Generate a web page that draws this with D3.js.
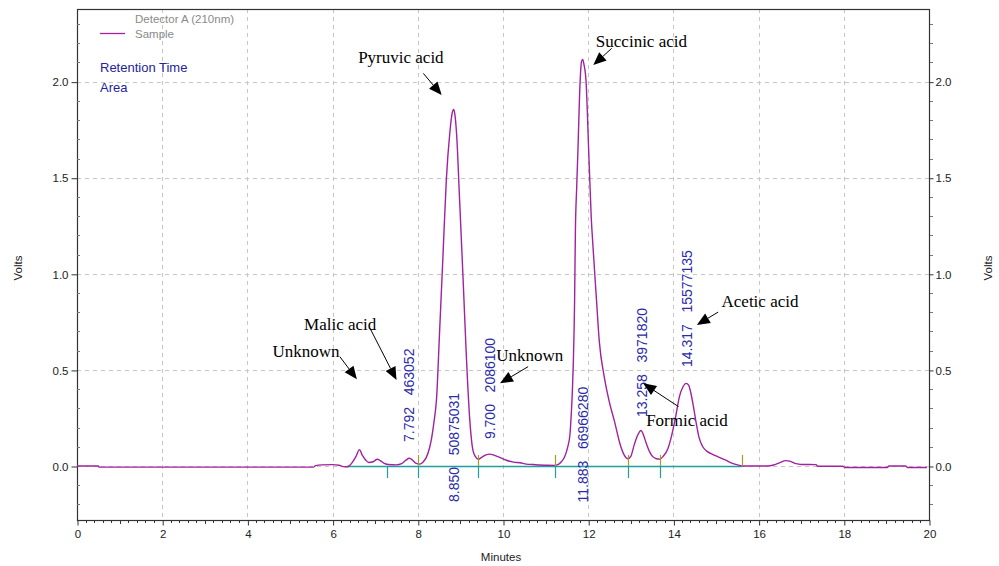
<!DOCTYPE html>
<html>
<head>
<meta charset="utf-8">
<script src="https://cdn.jsdelivr.net/npm/d3@7/dist/d3.min.js"></script>
<style>
  html, body { margin: 0; padding: 0; background: #fff; }
  svg { display: block; }
  .tick-text { font-family: "Liberation Sans", Arial, sans-serif; font-size: 11.5px; fill: #222; }
  .peak-label { font-family: "Liberation Sans", Arial, sans-serif; font-size: 14px; fill: #2b2ba8; white-space: pre; }
  .note { font-family: "Liberation Serif", "Times New Roman", serif; font-size: 17px; fill: #000; }
</style>
</head>
<body>
<svg id="chart" width="999" height="566"></svg>
<script>
// Detector A (210nm) trace: retention time (min) and signal (volts)
const traceTime = [
  0.00, 0.50, 0.52, 5.55, 5.60, 5.75, 6.00, 6.15, 6.25, 6.35,
  6.45, 6.55, 6.63, 6.70, 6.78, 6.85, 6.95, 7.05, 7.12, 7.20,
  7.30, 7.50, 7.62, 7.72, 7.80, 7.88, 7.95, 8.05, 8.12, 8.20,
  8.27, 8.32, 8.38, 8.44, 8.51, 8.59, 8.67, 8.75, 8.81, 8.84,
  8.87, 8.91, 8.98, 9.06, 9.14, 9.22, 9.29, 9.35, 9.42, 9.50,
  9.60, 9.69, 9.80, 9.92, 10.08, 10.25, 10.40, 10.55, 10.70, 10.86,
  11.00, 11.21, 11.30, 11.37, 11.45, 11.52, 11.57, 11.60, 11.63, 11.65,
  11.68, 11.70, 11.73, 11.76, 11.81, 11.84, 11.87, 11.90, 11.95, 12.01,
  12.07, 12.11, 12.19, 12.26, 12.38, 12.50, 12.62, 12.74, 12.85, 12.93,
  13.00, 13.08, 13.16, 13.24, 13.30, 13.36, 13.44, 13.51, 13.60, 13.68,
  13.76, 13.87, 13.95, 14.02, 14.08, 14.14, 14.22, 14.30, 14.36, 14.41,
  14.47, 14.53, 14.60, 14.69, 14.80, 14.92, 15.05, 15.23, 15.40, 15.55,
  15.62, 16.20, 16.35, 16.50, 16.64, 16.75, 16.88, 17.00, 17.35, 17.38,
  17.98, 18.02, 19.02, 19.06, 19.45, 19.50, 19.95
];
const traceVolts = [
  0.000, 0.000, -0.006, -0.006, 0.002, 0.006, 0.007, 0.004, -0.003, -0.004,
  0.015, 0.050, 0.085, 0.055, 0.030, 0.018, 0.022, 0.035, 0.028, 0.015,
  0.008, 0.006, 0.012, 0.030, 0.040, 0.030, 0.015, 0.010, 0.020, 0.045,
  0.090, 0.140, 0.230, 0.350, 0.690, 1.090, 1.490, 1.730, 1.840, 1.855,
  1.830, 1.730, 1.390, 0.990, 0.570, 0.240, 0.087, 0.050, 0.035, 0.045,
  0.058, 0.062, 0.055, 0.045, 0.030, 0.020, 0.017, 0.010, 0.008, 0.005,
  0.004, 0.003, 0.008, 0.022, 0.050, 0.100, 0.160, 0.260, 0.400, 0.530,
  0.850, 1.230, 1.450, 1.650, 2.000, 2.100, 2.115, 2.090, 2.000, 1.650,
  1.300, 1.150, 0.880, 0.650, 0.460, 0.330, 0.230, 0.120, 0.055, 0.037,
  0.050, 0.110, 0.160, 0.185, 0.160, 0.120, 0.075, 0.050, 0.038, 0.036,
  0.050, 0.090, 0.150, 0.220, 0.290, 0.360, 0.410, 0.430, 0.420, 0.380,
  0.310, 0.230, 0.150, 0.100, 0.075, 0.060, 0.048, 0.030, 0.012, 0.003,
  0.000, 0.000, 0.005, 0.018, 0.028, 0.024, 0.012, 0.008, 0.007, -0.001,
  -0.001, -0.008, -0.008, 0.000, 0.000, -0.008, -0.008
];

// Integrated peaks: retention time and area
const peakTimes = ["7.792", "8.850", "9.700", "11.883", "13.258", "14.317"];
const peakAreas = ["463052", "50875031", "2086100", "66966280", "3971820", "15577135"];

// Integration baseline and event marks (minutes)
const baselineSpan = [6.33, 15.6];
const dropMarks = [7.28, 8.0, 9.41, 11.21, 12.93, 13.68];
const startEndMarks = [8.0, 9.41, 11.21, 12.93, 13.68, 15.6];

// Compound names
const noteTexts = ["Unknown", "Malic acid", "Pyruvic acid", "Unknown", "Succinic acid", "Formic acid", "Acetic acid"];

// Axis ticks
const xTicks = [0, 2, 4, 6, 8, 10, 12, 14, 16, 18, 20];
const yTicks = [0.0, 0.5, 1.0, 1.5, 2.0];

// ---------- layout ----------
const svg = d3.select("#chart");
const plot = { left: 77, right: 929, top: 9, bottom: 520 };

const x = d3.scaleLinear().domain([0, 20]).range([plot.left, plot.right]);
const y = d3.scaleLinear().domain([-0.281, 2.378]).range([plot.bottom, plot.top]);

// label anchor (volts, where the rotated text starts)
const peakLabelStart = [0.125, -0.187, 0.14, -0.19, 0.255, 0.515];

// note placement in data units: text anchor, arrow tail, arrow tip
const notePos = [
  { tx: 4.59, tv: 0.567, ax: 6.17, av: 0.569, bx: 6.57, bv: 0.451 },
  { tx: 5.33, tv: 0.708, ax: 6.88, av: 0.716, bx: 7.50, bv: 0.447 },
  { tx: 6.60, tv: 2.097, ax: 8.13, av: 2.043, bx: 8.56, bv: 1.930 },
  { tx: 9.84, tv: 0.546, ax: 10.59, av: 0.517, bx: 9.93, bv: 0.430 },
  { tx: 12.18, tv: 2.180, ax: 12.55, av: 2.173, bx: 12.12, bv: 2.086 },
  { tx: 13.36, tv: 0.208, ax: 14.12, av: 0.309, bx: 13.29, bv: 0.430 },
  { tx: 15.13, tv: 0.827, ax: 15.05, av: 0.801, bx: 14.55, bv: 0.734 }
];

// ---------- grid ----------
const grid = svg.append("g").attr("stroke", "#c6c6c6").attr("stroke-dasharray", "4,4").attr("stroke-width", 1);
grid.selectAll(".gx").data(xTicks.filter(d => d > 0 && d < 20)).join("line")
  .attr("x1", d => Math.round(x(d)) + 0.5).attr("x2", d => Math.round(x(d)) + 0.5)
  .attr("y1", plot.top).attr("y2", plot.bottom);
grid.selectAll(".gy").data(yTicks).join("line")
  .attr("y1", d => Math.round(y(d)) + 0.5).attr("y2", d => Math.round(y(d)) + 0.5)
  .attr("x1", plot.left).attr("x2", plot.right);

// ---------- axes ----------
const axisColor = "#333";
const frame = svg.append("g");
frame.append("rect")
  .attr("x", plot.left + 0.5).attr("y", plot.top + 0.5)
  .attr("width", plot.right - plot.left).attr("height", plot.bottom - plot.top)
  .attr("fill", "none").attr("stroke", axisColor).attr("stroke-width", 1.2);

// bottom axis
const xAxis = d3.axisBottom(x).tickValues(xTicks).tickFormat(d3.format("d")).tickSize(5).tickPadding(4);
const gx = svg.append("g").attr("transform", `translate(0.5,${plot.bottom + 0.5})`).call(xAxis);
gx.select(".domain").remove();
gx.selectAll("line").attr("stroke", axisColor);
gx.selectAll("text").attr("class", "tick-text").attr("font-size", null).attr("font-family", null).attr("fill", null);

const xMinor = d3.range(0, 20.001, 0.2).filter(d => Math.abs(d / 2 - Math.round(d / 2)) > 1e-6);
svg.append("g").selectAll("line").data(xMinor).join("line")
  .attr("x1", d => Math.round(x(d)) + 0.5).attr("x2", d => Math.round(x(d)) + 0.5)
  .attr("y1", plot.bottom).attr("y2", d => Math.abs(d - Math.round(d)) < 1e-6 ? plot.bottom + 4 : plot.bottom + 3)
  .attr("stroke", axisColor);

// left axis
const yFmt = d3.format(".1f");
const yAxisL = d3.axisLeft(y).tickValues(yTicks).tickFormat(yFmt).tickSize(6).tickPadding(3);
const gyl = svg.append("g").attr("transform", `translate(${plot.left + 0.5},0.5)`).call(yAxisL);
gyl.select(".domain").remove();
gyl.selectAll("line").attr("stroke", axisColor);
gyl.selectAll("text").attr("class", "tick-text").attr("font-size", null).attr("font-family", null).attr("fill", null);

// right axis
const yAxisR = d3.axisRight(y).tickValues(yTicks).tickFormat(yFmt).tickSize(4).tickPadding(2);
const gyr = svg.append("g").attr("transform", `translate(${plot.right + 0.5},0.5)`).call(yAxisR);
gyr.select(".domain").remove();
gyr.selectAll("line").attr("stroke", axisColor);
gyr.selectAll("text").attr("class", "tick-text").attr("font-size", null).attr("font-family", null).attr("fill", null);

// minor volt ticks every 0.1
const yMinor = d3.range(-0.2, 2.35, 0.1).map(d => +d.toFixed(1)).filter(d => !yTicks.includes(d));
svg.append("g").selectAll("line").data(yMinor).join("line")
  .attr("x1", plot.left).attr("x2", plot.left + 3)
  .attr("y1", d => Math.round(y(d)) + 0.5).attr("y2", d => Math.round(y(d)) + 0.5)
  .attr("stroke", "#777");
svg.append("g").selectAll("line").data(yMinor).join("line")
  .attr("x1", plot.right + 1).attr("x2", plot.right + 4)
  .attr("y1", d => Math.round(y(d)) + 0.5).attr("y2", d => Math.round(y(d)) + 0.5)
  .attr("stroke", "#777");

// axis titles
const titleFont = "'Liberation Sans', Arial, sans-serif";
svg.append("text").attr("transform", "translate(22,268) rotate(-90)")
  .attr("text-anchor", "middle").attr("font-family", titleFont).attr("font-size", 11.5).attr("fill", "#222").text("Volts");
svg.append("text").attr("transform", "translate(992,268) rotate(-90)")
  .attr("text-anchor", "middle").attr("font-family", titleFont).attr("font-size", 11.5).attr("fill", "#222").text("Volts");
svg.append("text").attr("x", 501).attr("y", 561)
  .attr("text-anchor", "middle").attr("font-family", titleFont).attr("font-size", 11.5).attr("fill", "#222").text("Minutes");

// ---------- integration baseline ----------
const teal = "#1f9f9f", olive = "#a39d24";
svg.append("line")
  .attr("x1", x(baselineSpan[0])).attr("x2", x(baselineSpan[1]))
  .attr("y1", y(0) + 0.5).attr("y2", y(0) + 0.5)
  .attr("stroke", teal).attr("stroke-width", 1.3);

// ---------- trace ----------
const tracePts = traceTime.map((t, i) => [t, traceVolts[i]]);
const line = d3.line().x(d => x(d[0])).y(d => y(d[1])).curve(d3.curveMonotoneX);
svg.append("path").datum(tracePts)
  .attr("d", line).attr("fill", "none")
  .attr("stroke", "#a0229f").attr("stroke-width", 1.4).attr("stroke-linejoin", "round");

// event marks
svg.append("g").selectAll("line").data(dropMarks).join("line")
  .attr("x1", d => Math.round(x(d)) + 0.5).attr("x2", d => Math.round(x(d)) + 0.5)
  .attr("y1", y(0)).attr("y2", y(0) + 12)
  .attr("stroke", teal).attr("stroke-width", 1.2);
svg.append("g").selectAll("line").data(startEndMarks).join("line")
  .attr("x1", d => Math.round(x(d)) + 0.5).attr("x2", d => Math.round(x(d)) + 0.5)
  .attr("y1", y(0) - 11).attr("y2", y(0))
  .attr("stroke", olive).attr("stroke-width", 1.2);

// ---------- peak labels ----------
svg.append("g").selectAll("text").data(peakTimes).join("text")
  .attr("class", "peak-label")
  .attr("transform", (d, i) => `translate(${x(+d)},${y(peakLabelStart[i])}) rotate(-90)`)
  .attr("dy", "0.36em")
  .text((d, i) => d + "   " + peakAreas[i]);

// ---------- compound notes with arrows ----------
const notes = svg.append("g");
noteTexts.forEach((txt, i) => {
  const p = notePos[i];
  notes.append("text").attr("class", "note").attr("x", x(p.tx)).attr("y", y(p.tv)).text(txt);
  const x0 = x(p.ax), y0 = y(p.av), x1 = x(p.bx), y1 = y(p.bv);
  const ang = Math.atan2(y1 - y0, x1 - x0);
  const headLen = 13, headHalf = 5.5;
  const bx = x1 - headLen * Math.cos(ang), by = y1 - headLen * Math.sin(ang);
  notes.append("line").attr("x1", x0).attr("y1", y0).attr("x2", bx).attr("y2", by)
    .attr("stroke", "#000").attr("stroke-width", 1);
  const px = -Math.sin(ang) * headHalf, py = Math.cos(ang) * headHalf;
  notes.append("polygon")
    .attr("points", [[x1, y1], [bx + px, by + py], [bx - px, by - py]].map(q => q.join(",")).join(" "))
    .attr("fill", "#000");
});

// ---------- legend ----------
const legend = svg.append("g").attr("font-family", titleFont);
legend.append("text").attr("x", 135).attr("y", 23).attr("font-size", 11.5).attr("fill", "#8a8a8a").text("Detector A (210nm)");
legend.append("line").attr("x1", 100).attr("x2", 125).attr("y1", 33.5).attr("y2", 33.5).attr("stroke", "#a0229f").attr("stroke-width", 1.3);
legend.append("text").attr("x", 135).attr("y", 38).attr("font-size", 11.5).attr("fill", "#8a8a8a").text("Sample");
legend.append("text").attr("x", 100).attr("y", 72).attr("font-size", 13).attr("fill", "#23239c").text("Retention Time");
legend.append("text").attr("x", 100).attr("y", 92).attr("font-size", 13).attr("fill", "#23239c").text("Area");
</script>
</body>
</html>
